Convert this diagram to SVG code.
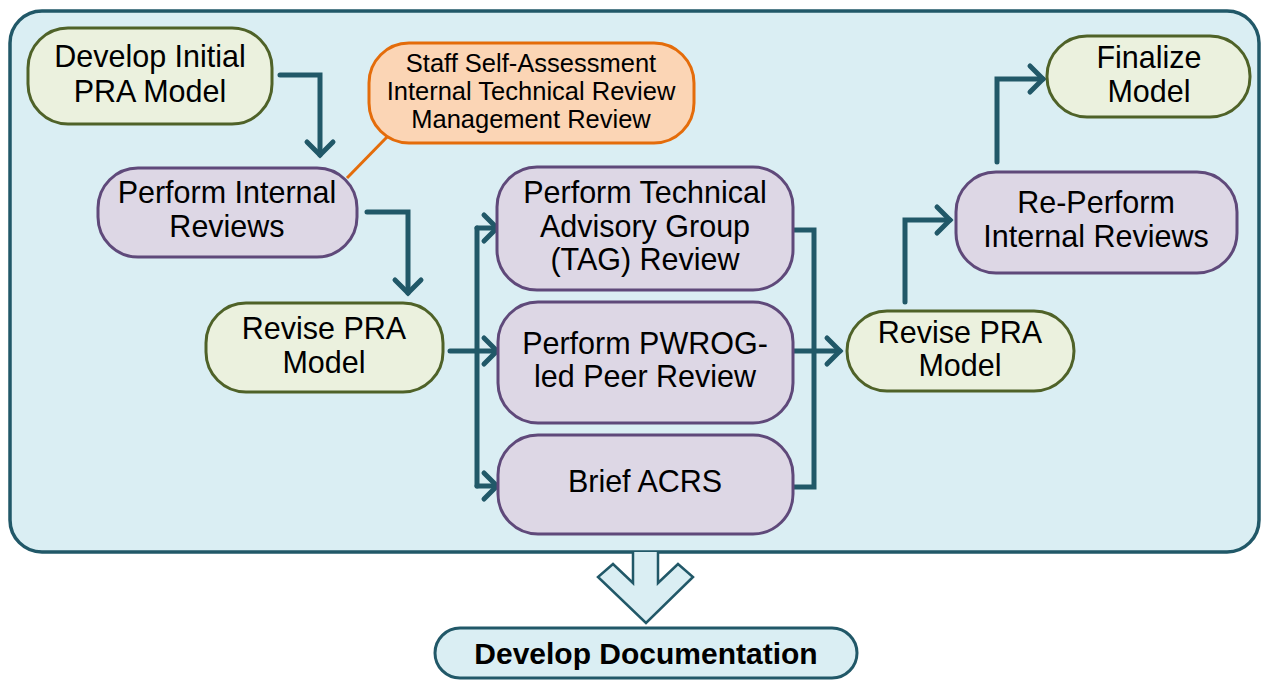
<svg xmlns="http://www.w3.org/2000/svg" width="1261" height="680" viewBox="0 0 1261 680">
<defs>
<style>
.t{font-family:"Liberation Sans",Arial,sans-serif;font-size:30.5px;fill:#000;text-anchor:middle}
.o{font-family:"Liberation Sans",Arial,sans-serif;font-size:25.5px;fill:#000;text-anchor:middle}
.b{font-family:"Liberation Sans",Arial,sans-serif;font-size:30px;font-weight:bold;fill:#000;text-anchor:middle}
.g{fill:#EBF1DE;stroke:#4F6228;stroke-width:3}
.p{fill:#DDD7E5;stroke:#5F497A;stroke-width:3}
.c{fill:none;stroke:#215868;stroke-width:5;stroke-linecap:round;stroke-linejoin:miter}
</style>
<marker id="ah" markerUnits="userSpaceOnUse" viewBox="-18 -18 24 36" refX="0" refY="0" markerWidth="24" markerHeight="36" orient="auto">
<path d="M-13,-13 L0,0 L-13,13" fill="none" stroke="#215868" stroke-width="5" stroke-linecap="round" stroke-linejoin="miter"/>
</marker>
</defs>
<rect id="container" x="10" y="11" width="1249" height="541" rx="32" fill="#DAEEF3" stroke="#215868" stroke-width="3.5"/>
<g id="connectors">
<path class="c" d="M280,75 H320 V155" marker-end="url(#ah)"/>
<path class="c" d="M367,212 H408 V293" marker-end="url(#ah)"/>
<path class="c" d="M450,351 H497" marker-end="url(#ah)"/>
<path class="c" d="M477,228 V486"/>
<path class="c" d="M477,228 H497" marker-end="url(#ah)"/>
<path class="c" d="M477,486 H497" marker-end="url(#ah)"/>
<path class="c" d="M793,230 H814 V487 H793"/>
<path class="c" d="M793,351 H840" marker-end="url(#ah)"/>
<path class="c" d="M905,302 V220 H950" marker-end="url(#ah)"/>
<path class="c" d="M997,162 V79 H1043" marker-end="url(#ah)"/>
<path d="M347,178 L387,137" stroke="#E46C0A" stroke-width="3" fill="none"/>
<path id="bigarrow" d="M633,552 V583 L613,564 L598,577 L646,623 L693,577 L678,564 L658,583 V552" fill="#DAEEF3" stroke="#215868" stroke-width="2.5" stroke-linejoin="miter"/>
</g>
<g id="n-develop-initial">
<rect class="g" x="28" y="28" width="244" height="96" rx="40"/>
<text class="t" x="150" y="67">Develop Initial</text>
<text class="t" x="150" y="102">PRA Model</text>
</g>
<g id="n-reviews-list">
<rect x="369" y="43" width="325" height="100" rx="40" fill="#FBD5B5" stroke="#E46C0A" stroke-width="3"/>
<text class="o" x="531" y="72">Staff Self-Assessment</text>
<text class="o" x="531" y="100">Internal Technical Review</text>
<text class="o" x="531" y="128">Management Review</text>
</g>
<g id="n-perform-internal">
<rect class="p" x="98" y="168" width="259" height="89" rx="40"/>
<text class="t" x="227" y="203">Perform Internal</text>
<text class="t" x="227" y="237">Reviews</text>
</g>
<g id="n-revise-1">
<rect class="g" x="206" y="303" width="237" height="89" rx="40"/>
<text class="t" x="324" y="339">Revise PRA</text>
<text class="t" x="324" y="373">Model</text>
</g>
<g id="n-tag">
<rect class="p" x="497" y="167" width="296" height="123" rx="40"/>
<text class="t" x="645" y="203">Perform Technical</text>
<text class="t" x="645" y="237">Advisory Group</text>
<text class="t" x="645" y="270">(TAG) Review</text>
</g>
<g id="n-pwrog">
<rect class="p" x="498" y="302" width="295" height="121" rx="40"/>
<text class="t" x="645" y="354">Perform PWROG-</text>
<text class="t" x="645" y="387">led Peer Review</text>
</g>
<g id="n-acrs">
<rect class="p" x="498" y="435" width="295" height="99" rx="40"/>
<text class="t" x="645" y="492">Brief ACRS</text>
</g>
<g id="n-revise-2">
<rect class="g" x="847" y="311" width="227" height="80" rx="40"/>
<text class="t" x="960" y="343">Revise PRA</text>
<text class="t" x="960" y="376">Model</text>
</g>
<g id="n-reperform">
<rect class="p" x="956" y="172" width="281" height="101" rx="40"/>
<text class="t" x="1096" y="213">Re-Perform</text>
<text class="t" x="1096" y="247">Internal Reviews</text>
</g>
<g id="n-finalize">
<rect class="g" x="1047" y="36" width="203" height="81" rx="40"/>
<text class="t" x="1149" y="68">Finalize</text>
<text class="t" x="1149" y="102">Model</text>
</g>
<g id="n-documentation">
<rect x="435" y="628" width="422" height="50" rx="25" fill="#DAEEF3" stroke="#215868" stroke-width="3"/>
<text class="b" x="646" y="664">Develop Documentation</text>
</g>
</svg>
